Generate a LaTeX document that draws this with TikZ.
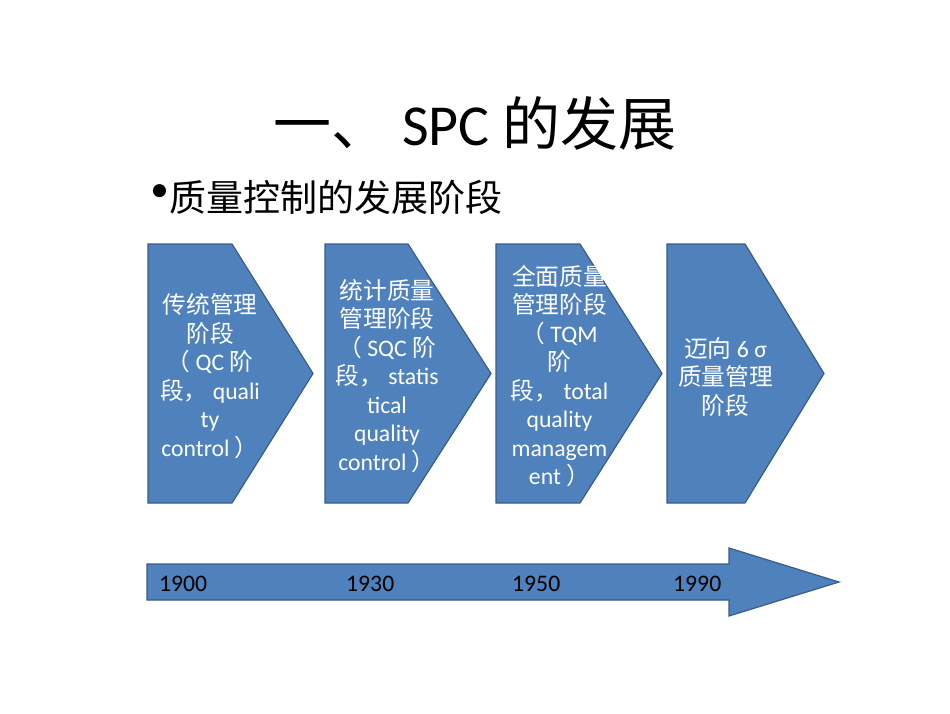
\documentclass[tikz,border=0pt]{standalone}
\usepackage{fontspec}
\setmainfont{Carlito}
\newfontfamily\cjk{Noto Sans CJK SC}
\definecolor{boxblue}{HTML}{4F81BD}
\definecolor{boxedge}{HTML}{385D8A}
\tikzset{
  stagebox/.style={fill=boxblue,draw=boxedge,line width=1.2pt,line join=miter},
  stagetext/.style={text=white,align=center,inner sep=0pt,font=\fontsize{23.7}{28.5}\selectfont},
  yeartext/.style={text=black,anchor=west,inner sep=0pt,font=\fontsize{23.7}{28.5}\selectfont}
}
\begin{document}
\begin{tikzpicture}[x=1pt,y=-1pt]
\useasboundingbox (0,0) rectangle (950,713);
\fill[white] (0,0) rectangle (950,713);
% title
\node[inner sep=0pt,font=\fontsize{58}{64}\selectfont] (title) at (475,123) {{\cjk 一、} SPC {\cjk 的发展}};
\node[inner sep=0pt,font=\fontsize{37}{40}\selectfont,anchor=east] (bullet) at (169,193) {•};
\node[inner sep=0pt,font=\fontsize{37}{40}\selectfont\cjk,anchor=west] (sub) at (169,197) {质量控制的发展阶段};
% stage shapes
\draw[stagebox] (148,244) -- (232,244) -- (313,373.5) -- (232,503) -- (148,503) -- cycle;
\draw[stagebox] (325,244) -- (408,244) -- (491,373.5) -- (408,503) -- (325,503) -- cycle;
\draw[stagebox] (496,244) -- (580,244) -- (662,373.5) -- (580,503) -- (496,503) -- cycle;
\draw[stagebox] (667,244) -- (745,244) -- (824,373.5) -- (745,503) -- (667,503) -- cycle;
% stage texts
\node[stagetext] (s1) at (210,376) {{\cjk 传统管理}\\{\cjk 阶段}\\{\cjk （} QC {\cjk 阶}\\{\cjk 段，} quali\\ty\\control {\cjk ）}};
\node[stagetext] (s2) at (387,376) {{\cjk 统计质量}\\{\cjk 管理阶段}\\{\cjk （} SQC {\cjk 阶}\\{\cjk 段，} statis\\tical\\quality\\control {\cjk ）}};
\node[stagetext] (s3) at (559.5,376) {{\cjk 全面质量}\\{\cjk 管理阶段}\\{\cjk （} TQM\\{\cjk 阶}\\{\cjk 段，} total\\quality\\managem\\ent {\cjk ）}};
\node[stagetext] (s4) at (725.5,377) {{\cjk 迈向} 6 σ\\{\cjk 质量管理}\\{\cjk 阶段}};
% timeline arrow
\draw[stagebox] (147,564) -- (729,564) -- (729,548) -- (839,582) -- (729,616) -- (729,600) -- (147,600) -- cycle;
\node[yeartext] (y1) at (159,584) {1900};
\node[yeartext] (y2) at (346,584) {1930};
\node[yeartext] (y3) at (512,584) {1950};
\node[yeartext] (y4) at (673,584) {1990};
\end{tikzpicture}
\end{document}
